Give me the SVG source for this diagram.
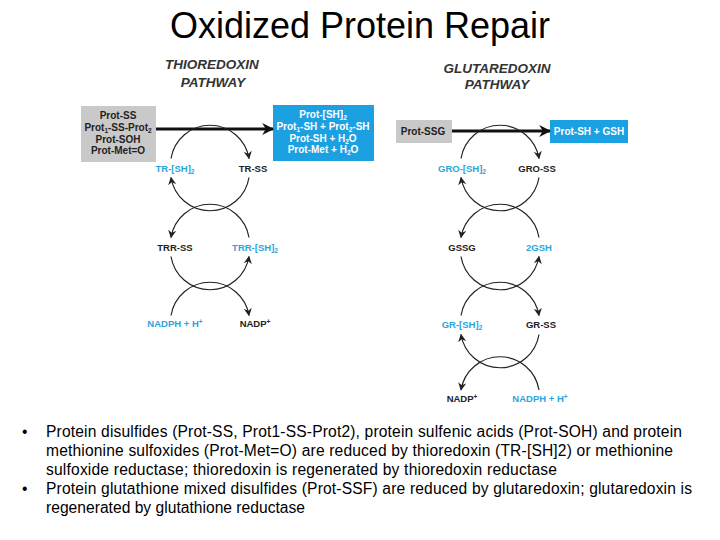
<svg xmlns="http://www.w3.org/2000/svg" width="720" height="540" viewBox="0 0 720 540">
<defs>
<marker id="ah" viewBox="0 0 10 10" refX="9" refY="5" markerWidth="8" markerHeight="8" orient="auto" markerUnits="userSpaceOnUse"><path d="M0,0 L10,5 L0,10 L3,5 z" fill="#222"/></marker>
<marker id="ahb" viewBox="0 0 10 10" refX="9" refY="5" markerWidth="12" markerHeight="12" orient="auto" markerUnits="userSpaceOnUse"><path d="M0,0 L10,5 L0,10 L3,5 z" fill="#111"/></marker>
<style>
.title{font-family:"Liberation Sans",Arial,sans-serif;font-size:36px;fill:#000}
.head{font-family:"Liberation Sans",Arial,sans-serif;font-size:13.5px;font-weight:bold;font-style:italic;fill:#333;text-anchor:middle}
.lbl{font-family:"Liberation Sans",Arial,sans-serif;font-size:9.5px;font-weight:bold;text-anchor:middle}
.box{font-size:10px}
.k{fill:#222}
.c{fill:#2aa5dc}
.w{fill:#fff}
.bul{font-family:"Liberation Sans",Arial,sans-serif;font-size:15.6px;fill:#000}
.arc{fill:none;stroke:#222;stroke-width:1.2;marker-end:url(#ah)}
.main{fill:none;stroke:#111;stroke-width:2.8;marker-end:url(#ahb)}
</style>
</defs>
<rect width="720" height="540" fill="#fff"/>
<text class="title" x="360" y="38" text-anchor="middle">Oxidized Protein Repair</text>

<g id="thioredoxin-heading">
<text class="head" x="212" y="69">THIOREDOXIN</text>
<text class="head" x="213" y="87">PATHWAY</text>
</g>
<g id="glutaredoxin-heading">
<text class="head" x="497" y="73">GLUTAREDOXIN</text>
<text class="head" x="497" y="89">PATHWAY</text>
</g>

<g id="oxidized-proteins">
<rect x="81" y="106" width="75" height="56" fill="#c9c9c9"/>
<text class="lbl box k" x="118" y="119">Prot-SS</text>
<text class="lbl box k" x="118" y="131">Prot<tspan font-size="6.5" dy="2">1</tspan><tspan dy="-2">-SS-Prot</tspan><tspan font-size="6.5" dy="2">2</tspan></text>
<text class="lbl box k" x="118" y="143">Prot-SOH</text>
<text class="lbl box k" x="118" y="154">Prot-Met=O</text>
</g>
<g id="reduced-proteins">
<rect x="273" y="105" width="101" height="56" fill="#1ba0e2"/>
<text class="lbl box w" x="323" y="118">Prot-[SH]<tspan font-size="6.5" dy="2">2</tspan></text>
<text class="lbl box w" x="323" y="130">Prot<tspan font-size="6.5" dy="2">1</tspan><tspan dy="-2">-SH + Prot</tspan><tspan font-size="6.5" dy="2">2</tspan><tspan dy="-2">-SH</tspan></text>
<text class="lbl box w" x="323" y="142">Prot-SH + H<tspan font-size="6.5" dy="2">2</tspan><tspan dy="-2">O</tspan></text>
<text class="lbl box w" x="323" y="153">Prot-Met + H<tspan font-size="6.5" dy="2">2</tspan><tspan dy="-2">O</tspan></text>
</g>
<g id="prot-ssg">
<rect x="396" y="120" width="56" height="23" fill="#c9c9c9"/>
<text class="lbl box k" x="423" y="135">Prot-SSG</text>
</g>
<g id="prot-sh-gsh">
<rect x="550" y="120" width="78" height="23" fill="#1ba0e2"/>
<text class="lbl box w" x="589" y="135">Prot-SH + GSH</text>
</g>

<g id="tr-sh2"><text class="lbl c" x="175" y="171.5">TR-[SH]<tspan font-size="6.5" dy="2">2</tspan></text></g>
<g id="tr-ss"><text class="lbl k" x="253" y="171.5">TR-SS</text></g>
<g id="trr-ss"><text class="lbl k" x="175" y="250.5">TRR-SS</text></g>
<g id="trr-sh2"><text class="lbl c" x="255" y="250.5">TRR-[SH]<tspan font-size="6.5" dy="2">2</tspan></text></g>
<g id="nadph-left"><text class="lbl c" x="175" y="327">NADPH + H<tspan font-size="6.5" dy="-3">+</tspan></text></g>
<g id="nadp-left"><text class="lbl k" x="255" y="327">NADP<tspan font-size="6.5" dy="-3">+</tspan></text></g>

<g id="gro-sh2"><text class="lbl c" x="462" y="171.5">GRO-[SH]<tspan font-size="6.5" dy="2">2</tspan></text></g>
<g id="gro-ss"><text class="lbl k" x="537" y="171.5">GRO-SS</text></g>
<g id="gssg"><text class="lbl k" x="462" y="250.5">GSSG</text></g>
<g id="gsh2"><text class="lbl c" x="539" y="250.5">2GSH</text></g>
<g id="gr-sh2"><text class="lbl c" x="462" y="327.5">GR-[SH]<tspan font-size="6.5" dy="2">2</tspan></text></g>
<g id="gr-ss"><text class="lbl k" x="541" y="327.5">GR-SS</text></g>
<g id="nadp-right"><text class="lbl k" x="462" y="402">NADP<tspan font-size="6.5" dy="-3">+</tspan></text></g>
<g id="nadph-right"><text class="lbl c" x="540" y="402">NADPH + H<tspan font-size="6.5" dy="-3">+</tspan></text></g>

<g id="connectors">
<path class="main" d="M156 129 H273"/>
<path class="main" d="M452 131 H550"/>
<path class="arc" d="M171 158.5 A39.5 39.5 0 0 1 249 158.5"/>
<path class="arc" d="M249 177.5 A39.5 39.5 0 0 1 171 177.5"/>
<path class="arc" d="M249 237.5 A39.5 39.5 0 0 0 171 237.5"/>
<path class="arc" d="M171 256.5 A39.5 39.5 0 0 0 249 256.5"/>
<path class="arc" d="M171 315.5 A39.5 39.5 0 0 1 249 315.5"/>
<path class="arc" d="M461 158.5 A39.5 39.5 0 0 1 539 158.5"/>
<path class="arc" d="M539 177.5 A39.5 39.5 0 0 1 461 177.5"/>
<path class="arc" d="M539 237.5 A39.5 39.5 0 0 0 461 237.5"/>
<path class="arc" d="M461 256.5 A39.5 39.5 0 0 0 539 256.5"/>
<path class="arc" d="M461 315.5 A39.5 39.5 0 0 1 539 315.5"/>
<path class="arc" d="M539 334.5 A39.5 39.5 0 0 1 461 334.5"/>
<path class="arc" d="M539 390 A39.5 39.5 0 0 0 461 390"/>
</g>

<g id="bullets">
<text class="bul" x="22" y="437">•</text>
<text class="bul" x="46" y="437" textLength="636" lengthAdjust="spacing">Protein disulfides (Prot-SS, Prot1-SS-Prot2), protein sulfenic acids (Prot-SOH) and protein</text>
<text class="bul" x="46" y="456" textLength="627" lengthAdjust="spacing">methionine sulfoxides (Prot-Met=O) are reduced by thioredoxin (TR-[SH]2) or methionine</text>
<text class="bul" x="46" y="475" textLength="511" lengthAdjust="spacing">sulfoxide reductase; thioredoxin is regenerated by thioredoxin reductase</text>
<text class="bul" x="22" y="494">•</text>
<text class="bul" x="46" y="494" textLength="646" lengthAdjust="spacing">Protein glutathione mixed disulfides (Prot-SSF) are reduced by glutaredoxin; glutaredoxin is</text>
<text class="bul" x="46" y="513" textLength="259" lengthAdjust="spacing">regenerated by glutathione reductase</text>
</g>
</svg>
